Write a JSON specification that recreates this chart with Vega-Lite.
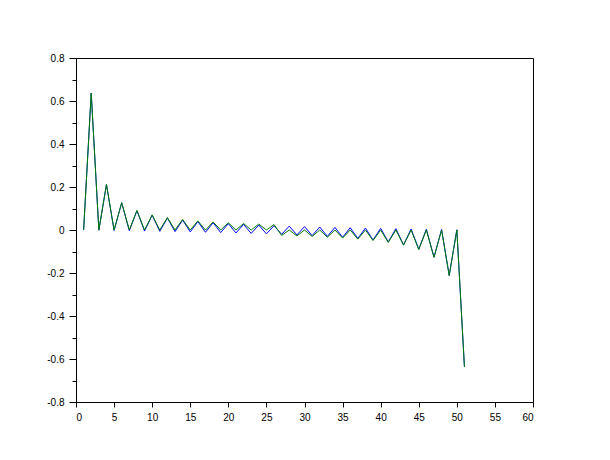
{
  "$schema": "https://vega.github.io/schema/vega-lite/v6.json",
  "width": 457,
  "height": 344,
  "autosize": {"type": "none"},
  "padding": {"left": 76, "top": 58, "right": 77, "bottom": 58},
  "background": "white",
  "config": {
    "view": {"stroke": "black", "strokeWidth": 1},
    "axis": {"grid": false, "domainColor": "black", "tickColor": "black", "labelColor": "black", "labelFont": "Liberation Sans", "labelFontSize": 10, "title": null, "domainWidth": 1, "tickWidth": 1}
  },
  "data": {"values": [
    {"x":1,"v":0,"s":"a"},{"x":2,"v":0.6364,"s":"a"},{"x":3,"v":-0.0012,"s":"a"},{"x":4,"v":0.2116,"s":"a"},{"x":5,"v":-0.0024,"s":"a"},
    {"x":6,"v":0.1263,"s":"a"},{"x":7,"v":-0.0037,"s":"a"},{"x":8,"v":0.0895,"s":"a"},{"x":9,"v":-0.0049,"s":"a"},{"x":10,"v":0.0689,"s":"a"},
    {"x":11,"v":-0.0062,"s":"a"},{"x":12,"v":0.0556,"s":"a"},{"x":13,"v":-0.0076,"s":"a"},{"x":14,"v":0.0463,"s":"a"},{"x":15,"v":-0.009,"s":"a"},
    {"x":16,"v":0.0393,"s":"a"},{"x":17,"v":-0.0106,"s":"a"},{"x":18,"v":0.034,"s":"a"},{"x":19,"v":-0.0121,"s":"a"},{"x":20,"v":0.0296,"s":"a"},
    {"x":21,"v":-0.0139,"s":"a"},{"x":22,"v":0.026,"s":"a"},{"x":23,"v":-0.0158,"s":"a"},{"x":24,"v":0.0229,"s":"a"},{"x":25,"v":-0.0179,"s":"a"},
    {"x":26,"v":0.0202,"s":"a"},{"x":27,"v":-0.0202,"s":"a"},{"x":28,"v":0.0179,"s":"a"},{"x":29,"v":-0.0229,"s":"a"},{"x":30,"v":0.0158,"s":"a"},
    {"x":31,"v":-0.026,"s":"a"},{"x":32,"v":0.0139,"s":"a"},{"x":33,"v":-0.0296,"s":"a"},{"x":34,"v":0.0121,"s":"a"},{"x":35,"v":-0.034,"s":"a"},
    {"x":36,"v":0.0106,"s":"a"},{"x":37,"v":-0.0393,"s":"a"},{"x":38,"v":0.009,"s":"a"},{"x":39,"v":-0.0463,"s":"a"},{"x":40,"v":0.0076,"s":"a"},
    {"x":41,"v":-0.0556,"s":"a"},{"x":42,"v":0.0062,"s":"a"},{"x":43,"v":-0.0689,"s":"a"},{"x":44,"v":0.0049,"s":"a"},{"x":45,"v":-0.0895,"s":"a"},
    {"x":46,"v":0.0037,"s":"a"},{"x":47,"v":-0.1263,"s":"a"},{"x":48,"v":0.0024,"s":"a"},{"x":49,"v":-0.2116,"s":"a"},{"x":50,"v":0.0012,"s":"a"},
    {"x":51,"v":-0.6364,"s":"a"},
    {"x":1,"v":0,"s":"b"},{"x":2,"v":0.6366,"s":"b"},{"x":3,"v":0,"s":"b"},{"x":4,"v":0.2122,"s":"b"},{"x":5,"v":0,"s":"b"},
    {"x":6,"v":0.1273,"s":"b"},{"x":7,"v":0,"s":"b"},{"x":8,"v":0.0909,"s":"b"},{"x":9,"v":0,"s":"b"},{"x":10,"v":0.0707,"s":"b"},
    {"x":11,"v":0,"s":"b"},{"x":12,"v":0.0579,"s":"b"},{"x":13,"v":0,"s":"b"},{"x":14,"v":0.049,"s":"b"},{"x":15,"v":0,"s":"b"},
    {"x":16,"v":0.0424,"s":"b"},{"x":17,"v":0,"s":"b"},{"x":18,"v":0.0374,"s":"b"},{"x":19,"v":0,"s":"b"},{"x":20,"v":0.0335,"s":"b"},
    {"x":21,"v":0,"s":"b"},{"x":22,"v":0.0303,"s":"b"},{"x":23,"v":0,"s":"b"},{"x":24,"v":0.0277,"s":"b"},{"x":25,"v":0,"s":"b"},
    {"x":26,"v":0.0255,"s":"b"},{"x":27,"v":-0.0255,"s":"b"},{"x":28,"v":0,"s":"b"},{"x":29,"v":-0.0277,"s":"b"},{"x":30,"v":0,"s":"b"},
    {"x":31,"v":-0.0303,"s":"b"},{"x":32,"v":0,"s":"b"},{"x":33,"v":-0.0335,"s":"b"},{"x":34,"v":0,"s":"b"},{"x":35,"v":-0.0374,"s":"b"},
    {"x":36,"v":0,"s":"b"},{"x":37,"v":-0.0424,"s":"b"},{"x":38,"v":0,"s":"b"},{"x":39,"v":-0.049,"s":"b"},{"x":40,"v":0,"s":"b"},
    {"x":41,"v":-0.0579,"s":"b"},{"x":42,"v":0,"s":"b"},{"x":43,"v":-0.0707,"s":"b"},{"x":44,"v":0,"s":"b"},{"x":45,"v":-0.0909,"s":"b"},
    {"x":46,"v":0,"s":"b"},{"x":47,"v":-0.1273,"s":"b"},{"x":48,"v":0,"s":"b"},{"x":49,"v":-0.2122,"s":"b"},{"x":50,"v":0,"s":"b"},
    {"x":51,"v":-0.6366,"s":"b"}
  ]},
  "mark": {"type": "line", "strokeWidth": 1},
  "encoding": {
    "x": {"field": "x", "type": "quantitative",
          "scale": {"domain": [0, 60], "nice": false, "zero": false},
          "axis": {"values": [0,5,10,15,20,25,30,35,40,45,50,55,60], "tickSize": 5, "labelPadding": 5, "labelExpr": "toString(datum.value)"}},
    "y": {"field": "v", "type": "quantitative",
          "scale": {"domain": [-0.8, 0.8], "nice": false, "zero": false},
          "axis": {"values": [-0.8,-0.7,-0.6,-0.5,-0.4,-0.3,-0.2,-0.1,0,0.1,0.2,0.3,0.4,0.5,0.6,0.7,0.8],
                   "tickSize": {"condition": {"test": "round(datum.value*10) % 2 !== 0", "value": 4}, "value": 7},
                   "labelPadding": 5,
                   "labelExpr": "round(datum.value*10) % 2 !== 0 ? '' : toString(round(datum.value*10)/10)"}},
    "color": {"field": "s", "type": "nominal", "scale": {"domain": ["a", "b"], "range": ["#0000ff", "#008000"]}, "legend": null}
  }
}
